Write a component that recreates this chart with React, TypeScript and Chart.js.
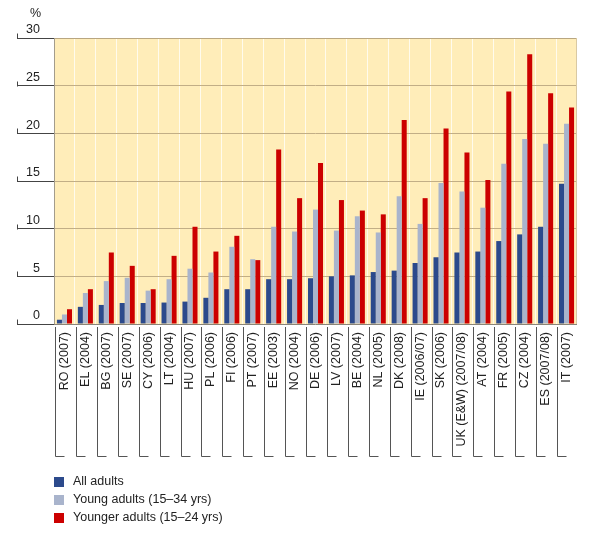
import React, { useEffect, useRef } from "react";
import { Chart, registerables } from "chart.js";

Chart.register(...registerables);

const categories = [
  "RO (2007)", "EL (2004)", "BG (2007)", "SE (2007)", "CY (2006)", "LT (2004)",
  "HU (2007)", "PL (2006)", "FI (2006)", "PT (2007)", "EE (2003)", "NO (2004)",
  "DE (2006)", "LV (2007)", "BE (2004)", "NL (2005)", "DK (2008)", "IE (2006/07)",
  "SK (2006)", "UK (E&W) (2007/08)", "AT (2004)", "FR (2005)", "CZ (2004)",
  "ES (2007/08)", "IT (2007)",
];

const allAdults = [
  0.45, 1.8, 2.0, 2.2, 2.2, 2.25, 2.35, 2.75, 3.65, 3.65, 4.7, 4.7, 4.8, 5.0,
  5.1, 5.45, 5.6, 6.4, 7.0, 7.5, 7.6, 8.7, 9.4, 10.2, 14.7,
];
const youngAdults = [
  1.0, 3.25, 4.5, 4.85, 3.5, 4.7, 5.8, 5.4, 8.1, 6.8, 10.2, 9.7, 12.0, 9.8,
  11.3, 9.6, 13.4, 10.5, 14.8, 13.9, 12.2, 16.8, 19.4, 18.9, 21.0,
];
const youngerAdults = [
  1.55, 3.65, 7.5, 6.1, 3.65, 7.15, 10.2, 7.6, 9.25, 6.7, 18.3, 13.2, 16.9,
  13.0, 11.9, 11.5, 21.4, 13.2, 20.5, 18.0, 15.1, 24.4, 28.3, 24.2, 22.7,
];

const seriesNames = [
  "All adults",
  "Young adults (15\u201334 yrs)",
  "Younger adults (15\u201324 yrs)",
];
const seriesColors = ["#2C4A8C", "#A9B4CC", "#CC0000"];

const yMin = 0;
const yMax = 30;
const yStep = 5;
const yUnit = "%";

const FONT = "Arial, 'Liberation Sans', sans-serif";
const FS = 12.5;

const decorPlugin = {
  id: "decor",
  beforeDraw(chart: any) {
    const { ctx, chartArea } = chart;
    ctx.save();
    ctx.fillStyle = "#FFEDB9";
    ctx.fillRect(
      chartArea.left,
      chartArea.top,
      chartArea.right - chartArea.left,
      chartArea.bottom - chartArea.top
    );
    ctx.restore();
  },
  afterDraw(chart: any) {
    const { ctx, chartArea } = chart;
    const xs = chart.scales.x;
    const ys = chart.scales.y;
    ctx.save();
    // plot borders
    ctx.lineWidth = 1;
    ctx.strokeStyle = "#B9A680";
    ctx.beginPath();
    ctx.moveTo(chartArea.left, chartArea.top + 0.5);
    ctx.lineTo(chartArea.right, chartArea.top + 0.5);
    ctx.stroke();
    ctx.strokeStyle = "#D9C9A3";
    ctx.beginPath();
    ctx.moveTo(chartArea.right - 0.5, chartArea.top);
    ctx.lineTo(chartArea.right - 0.5, chartArea.bottom);
    ctx.stroke();
    ctx.strokeStyle = "#A39C8C";
    ctx.beginPath();
    ctx.moveTo(chartArea.left + 0.5, chartArea.top);
    ctx.lineTo(chartArea.left + 0.5, chartArea.bottom);
    ctx.stroke();

    // y tick stubs
    ctx.strokeStyle = "#444";
    ys.ticks.forEach((t: any) => {
      const y = Math.round(ys.getPixelForValue(t.value)) + 0.5;
      ctx.beginPath();
      ctx.moveTo(17.5, y - 5);
      ctx.lineTo(17.5, y);
      ctx.stroke();
    });

    // unit
    ctx.fillStyle = "#222";
    ctx.font = `${FS}px ${FONT}`;
    ctx.textAlign = "center";
    ctx.textBaseline = "middle";
    ctx.fillText(yUnit, 35.5, 14);

    // category brackets
    const w = xs.getPixelForValue(1) - xs.getPixelForValue(0);
    ctx.strokeStyle = "#555";
    categories.forEach((_, i) => {
      const x = Math.round(xs.getPixelForValue(i) - w / 2 + 1) + 0.5;
      ctx.beginPath();
      ctx.moveTo(x, 327);
      ctx.lineTo(x, 456.5);
      ctx.lineTo(x + 9, 456.5);
      ctx.stroke();
    });

    // legend
    const ds = chart.data.datasets;
    ds.forEach((d: any, i: number) => {
      const cy = 482 + i * 18;
      ctx.fillStyle = d.backgroundColor;
      ctx.fillRect(54, cy - 5, 10, 10);
      ctx.fillStyle = "#222";
      ctx.textAlign = "left";
      ctx.textBaseline = "middle";
      ctx.font = `${FS}px ${FONT}`;
      ctx.fillText(d.label, 73, cy);
    });
    ctx.restore();
  },
};

export default function App() {
  const ref = useRef<HTMLCanvasElement | null>(null);
  useEffect(() => {
    document.body.style.margin = "0";
    const canvas = ref.current!;
    const chart = new Chart(canvas, {
      type: "bar",
      data: {
        labels: categories,
        datasets: [allAdults, youngAdults, youngerAdults].map((v, i) => ({
          label: seriesNames[i],
          data: v,
          backgroundColor: seriesColors[i],
          borderWidth: 0,
          categoryPercentage: 0.72,
          barPercentage: 1.0,
        })),
      },
      options: {
        animation: false,
        responsive: false,
        maintainAspectRatio: false,
        layout: { padding: { left: 0, right: 23, top: 38, bottom: 0 } },
        plugins: {
          legend: { display: false },
          tooltip: { enabled: false },
        },
        scales: {
          x: {
            type: "category",
            grid: {
              display: true,
              drawTicks: false,
              color: "rgba(255,255,255,0.75)",
              lineWidth: 1,
            },
            border: { display: false },
            ticks: {
              autoSkip: false,
              minRotation: 90,
              maxRotation: 90,
              padding: 8,
              color: "#222",
              font: { family: FONT, size: FS },
            },
            afterFit: (s: any) => {
              s.height = 537 - 324;
            },
          },
          y: {
            min: yMin,
            max: yMax,
            grid: {
              drawTicks: true,
              tickLength: 37,
              tickColor: "#444",
              color: (c: any) =>
                c.tick && c.tick.value === 0 ? "#8A8478" : "#C2AE86",
              lineWidth: 1,
            },
            border: { display: false },
            ticks: {
              stepSize: yStep,
              padding: -23,
              labelOffset: -8,
              color: "#222",
              font: { family: FONT, size: FS },
            },
            afterFit: (s: any) => {
              s.width = 54;
            },
          },
        },
      },
      plugins: [decorPlugin],
    });
    return () => chart.destroy();
  }, []);
  return (
    <canvas
      ref={ref}
      width={600}
      height={537}
      style={{ display: "block", width: 600, height: 537 }}
    />
  );
}
